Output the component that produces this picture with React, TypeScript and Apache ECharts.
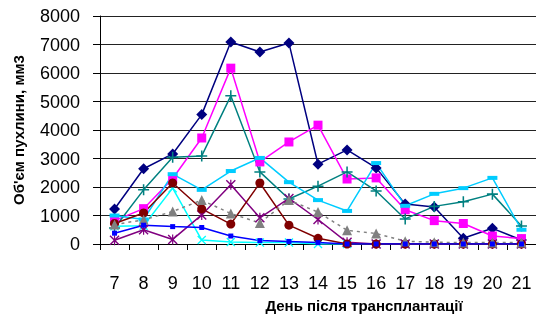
import React, { useEffect, useRef } from "react";
import * as echarts from "echarts";

const categories = ["7", "8", "9", "10", "11", "12", "13", "14", "15", "16", "17", "18", "19", "20", "21"];
const yTicks = { min: 0, max: 8000, interval: 1000 };

const navy = [1230, 2640, 3160, 4540, 7090, 6740, 7050, 2800, 3300, 2670, 1400, 1300, 200, 550, 140];
const magenta = [820, 1240, 2300, 3720, 6170, 2880, 3580, 4170, 2280, 2320, 1200, 820, 720, 280, 190];
const teal = [560, 1900, 3040, 3090, 5200, 2530, 1580, 2030, 2530, 1860, 880, 1320, 1480, 1750, 630];
const lightBlue = [1000, 860, 2450, 1900, 2560, 3020, 2170, 1540, 1160, 2840, 1340, 1760, 1960, 2320, 500];
const cyan = [620, 640, 1960, 140, 70, 50, 50, 0, 0, 0, 0, 0, 0, 0, 0];
const purple = [130, 500, 160, 1020, 2080, 920, 1600, 860, 60, 0, 0, 0, 0, 0, 0];
const darkRed = [720, 1090, 2140, 1230, 700, 2140, 660, 200, 0, 0, 0, 0, 0, 0, 0];
const gray = [680, 850, 1140, 1540, 1070, 740, 1540, 1120, 480, 370, 100, 60, 50, 50, 50];
const blue = [380, 660, 610, 580, 280, 120, 90, 50, 0, 0, 0, 0, 0, 0, 0];

const xAxisName = "День після трансплантації";
const yAxisName = "Об'єм пухлини, мм3";

const PLUS = "path://M4.3,0h1.4v4.3h4.3v1.4h-4.3v4.3h-1.4v-4.3h-4.3v-1.4h4.3z";
const XMARK = "path://M0,1L1,0L5,4L9,0L10,1L6,5L10,9L9,10L5,6L1,10L0,9L4,5Z";
const ASTER = "path://M0,1L1,0L5,4L9,0L10,1L6,5L10,9L9,10L5,6L1,10L0,9L4,5Z M4.4,0h1.2v10h-1.2z";

function mk(name: string, data: number[], color: string, symbol: string, size: number | number[], lineType: any = "solid") {
  return {
    name,
    type: "line",
    data,
    symbol,
    symbolSize: size,
    showAllSymbol: true,
    lineStyle: { color, width: 1.5, type: lineType },
    itemStyle: { color, borderWidth: 0 },
    emphasis: { disabled: true },
  };
}

export default function App() {
  const ref = useRef<HTMLDivElement>(null);
  useEffect(() => {
    if (!ref.current) return;
    const chart = echarts.init(ref.current, null, { renderer: "svg" });
    const font = "'Liberation Sans', Arial, sans-serif";
    chart.setOption({
      animation: false,
      grid: { left: 100, top: 16, width: 440, bottom: 70, containLabel: false },
      xAxis: {
        type: "category",
        data: categories,
        boundaryGap: true,
        axisLine: { lineStyle: { color: "#000", width: 1 } },
        axisTick: { show: true, inside: false, length: 6, lineStyle: { color: "#000" } },
        axisLabel: { color: "#000", fontSize: 18, fontFamily: font, margin: 30, interval: 0 },
        splitLine: { show: false },
      },
      yAxis: {
        type: "value",
        min: yTicks.min,
        max: yTicks.max,
        interval: yTicks.interval,
        axisLine: { show: true, lineStyle: { color: "#000", width: 1 } },
        axisTick: { show: true, inside: false, length: 7, lineStyle: { color: "#000" } },
        axisLabel: { color: "#000", fontSize: 18, fontFamily: font, margin: 20, formatter: (v: number) => String(v) },
        splitLine: { show: true, lineStyle: { color: "#222", width: 1 } },
      },
      graphic: [
        {
          type: "text",
          x: 364,
          y: 305,
          style: { text: xAxisName, fill: "#000", font: `bold 15px ${font}`, textAlign: "center", textVerticalAlign: "middle" },
        },
        {
          type: "text",
          x: 18,
          y: 130,
          rotation: Math.PI / 2,
          style: { text: yAxisName, fill: "#000", font: `bold 15px ${font}`, textAlign: "center", textVerticalAlign: "middle" },
        },
      ],
      series: [
        mk("s1", navy, "#000080", "diamond", 11),
        mk("s2", magenta, "#FF00FF", "rect", 9),
        mk("s3", teal, "#008080", PLUS, 11),
        mk("s4", lightBlue, "#00CCFF", "rect", [10, 4]),
        mk("s5", cyan, "#00FFFF", XMARK, 9),
        mk("s6", purple, "#800080", ASTER, 10),
        mk("s7", darkRed, "#800000", "circle", 9),
        mk("s8", gray, "#808080", "triangle", 10, [3, 4]),
        mk("s9", blue, "#0000FF", "rect", 5),
      ],
    });
    return () => chart.dispose();
  }, []);
  return <div ref={ref} style={{ position: "fixed", left: 0, top: 0, width: 536, height: 314 }} />;
}
